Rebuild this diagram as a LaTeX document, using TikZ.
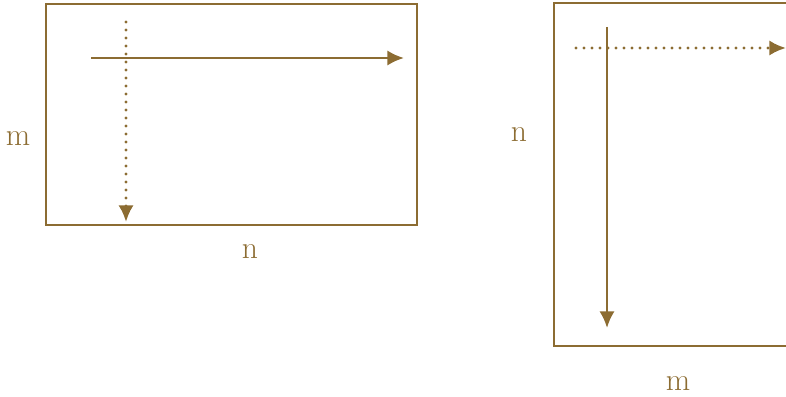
\documentclass[tikz,border=0pt]{standalone}
\usepackage{tikz}
\usetikzlibrary{arrows.meta}
\definecolor{matgold}{RGB}{140,108,50}

\begin{document}
\begin{tikzpicture}[x=0.3mm,y=-0.3mm]
    \tikzset{matbox/.style = {draw=matgold,line width=2.4pt}}
    \tikzset{lbl/.style = {text=matgold,font=\fontsize{27}{32}\selectfont,inner sep=0pt}}
    \tikzset{walk/.style = {draw=matgold,line width=2.3pt,-{Latex[length=5mm,width=4.6mm]}}}
    \tikzset{hop/.style = {walk,line cap=round,dash pattern=on 0pt off 2.4mm,line width=2.6pt}}

    \useasboundingbox (0,0) rectangle (786,397);
    \clip (0,0) rectangle (786,397);

    % row-major block
    \draw[matbox] (46,4) rectangle (417,225);
    \node[lbl] (rm) at (18,139) {m};
    \node[lbl] (rn) at (250,252) {n};
    \coordinate (rowA) at (91,58);
    \coordinate (rowB) at (404,58);
    \coordinate (colA) at (126,22);
    \coordinate (colB) at (126,222);

    % column-major block
    \draw[matbox] (554,3) rectangle (810,346);
    \node[lbl] (cn) at (519,135) {n};
    \node[lbl] (cm) at (678,384) {m};
    \coordinate (downA) at (607,27);
    \coordinate (downB) at (607,328);
    \coordinate (acrossA) at (576,48);
    \coordinate (acrossB) at (786,48);

    %edges
    \draw[walk] (rowA) to (rowB);
    \draw[hop] (colA) to (colB);
    \draw[walk] (downA) to (downB);
    \draw[hop] (acrossA) to (acrossB);
\end{tikzpicture}
\end{document}
